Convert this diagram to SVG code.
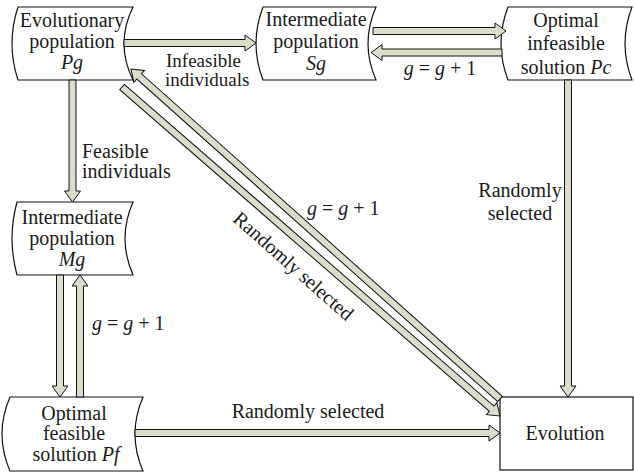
<svg xmlns="http://www.w3.org/2000/svg" width="634" height="473" viewBox="0 0 634 473">
<style>
.node{fill:#fff;stroke:#111;stroke-width:1.2}
.arr{fill:#dcdccb;stroke:#111;stroke-width:1}
text{font-family:"Liberation Serif","DejaVu Serif","Times New Roman",serif;font-size:20px;fill:#1a1a1a}
.c{text-anchor:middle}
.i{font-style:italic}
.s{font-size:19px}
</style>
<rect width="634" height="473" fill="#fff"/>
<g id="node-pg">
<path class="node" d="M18,7 H133 Q115,43.5 133,80 H18 Q6,43.5 18,7 Z"/>
<text class="c" x="72" y="27">Evolutionary</text>
<text class="c" x="72" y="48">population</text>
<text class="c i" x="72" y="69">Pg</text>
</g>
<g id="node-sg">
<path class="node" d="M263,7 H376 Q360,43.5 376,80 H263 Q249,43.5 263,7 Z"/>
<text class="c" x="316" y="26">Intermediate</text>
<text class="c" x="316" y="48">population</text>
<text class="c i" x="316" y="70">Sg</text>
</g>
<g id="node-pc">
<path class="node" d="M508,7 H632 Q618,43.5 632,80 H508 Q494,43.5 508,7 Z"/>
<text class="c" x="566" y="27">Optimal</text>
<text class="c" x="566" y="50">infeasible</text>
<text class="c" x="566" y="74">solution <tspan class="i">Pc</tspan></text>
</g>
<g id="node-mg">
<path class="node" d="M17,202 H133 Q117,238.5 133,275 H17 Q7,238.5 17,202 Z"/>
<text class="c" x="72" y="224">Intermediate</text>
<text class="c" x="72" y="245">population</text>
<text class="c i" x="72" y="266">Mg</text>
</g>
<g id="node-pf">
<path class="node" d="M10,397 H143 Q127,434 143,471 H10 Q-6,434 10,397 Z"/>
<text class="c" x="74" y="420">Optimal</text>
<text class="c" x="74" y="440">feasible</text>
<text class="c" x="76" y="461">solution <tspan class="i">Pf</tspan></text>
</g>
<g id="node-evolution">
<rect class="node" x="500" y="397" width="133" height="73"/>
<text class="c" x="565" y="440">Evolution</text>
</g>
<g id="connectors">
<path class="arr" transform="translate(124,43)" d="M0,-3.5 H121 V-8 L132,0 L121,8 V3.5 H0 Z"/>
<path class="arr" transform="translate(373,31)" d="M0,-3.5 H122 V-8 L133,0 L122,8 V3.5 H0 Z"/>
<path class="arr" transform="translate(502,52.5) rotate(180)" d="M0,-3.5 H120 V-8 L131,0 L120,8 V3.5 H0 Z"/>
<path class="arr" transform="translate(72.5,80) rotate(90)" d="M0,-3.5 H111 V-8 L122,0 L111,8 V3.5 H0 Z"/>
<path class="arr" transform="translate(60,275) rotate(90)" d="M0,-3.5 H111 V-8 L122,0 L111,8 V3.5 H0 Z"/>
<path class="arr" transform="translate(80,397) rotate(-90)" d="M0,-3.5 H111 V-8 L122,0 L111,8 V3.5 H0 Z"/>
<path class="arr" transform="translate(568,80) rotate(90)" d="M0,-3.5 H306 V-8 L317,0 L306,8 V3.5 H0 Z"/>
<path class="arr" transform="translate(135,433)" d="M0,-3.5 H354 V-8 L365,0 L354,8 V3.5 H0 Z"/>
<path class="arr" transform="translate(122,87) rotate(41.03)" d="M0,-3.5 H490 V-8 L501,0 L490,8 V3.5 H0 Z"/>
<path class="arr" transform="translate(500,399) rotate(221.8)" d="M0,-3.5 H484 V-8 L495,0 L484,8 V3.5 H0 Z"/>
</g>
<g id="labels">
<text class="s" x="166" y="67">Infeasible</text>
<text class="s" x="165" y="86">individuals</text>
<text class="c" x="440" y="75"><tspan class="i">g</tspan> = <tspan class="i">g</tspan> + 1</text>
<text x="82" y="158">Feasible</text>
<text x="82" y="178">individuals</text>
<text x="92" y="330"><tspan class="i">g</tspan> = <tspan class="i">g</tspan> + 1</text>
<text x="307" y="215"><tspan class="i">g</tspan> = <tspan class="i">g</tspan> + 1</text>
<text class="c" transform="translate(289,271) rotate(41.5)" x="0" y="0">Randomly selected</text>
<text class="c" x="520" y="197">Randomly</text>
<text class="c" x="520" y="220">selected</text>
<text class="c" x="308" y="418">Randomly selected</text>
</g>
</svg>
